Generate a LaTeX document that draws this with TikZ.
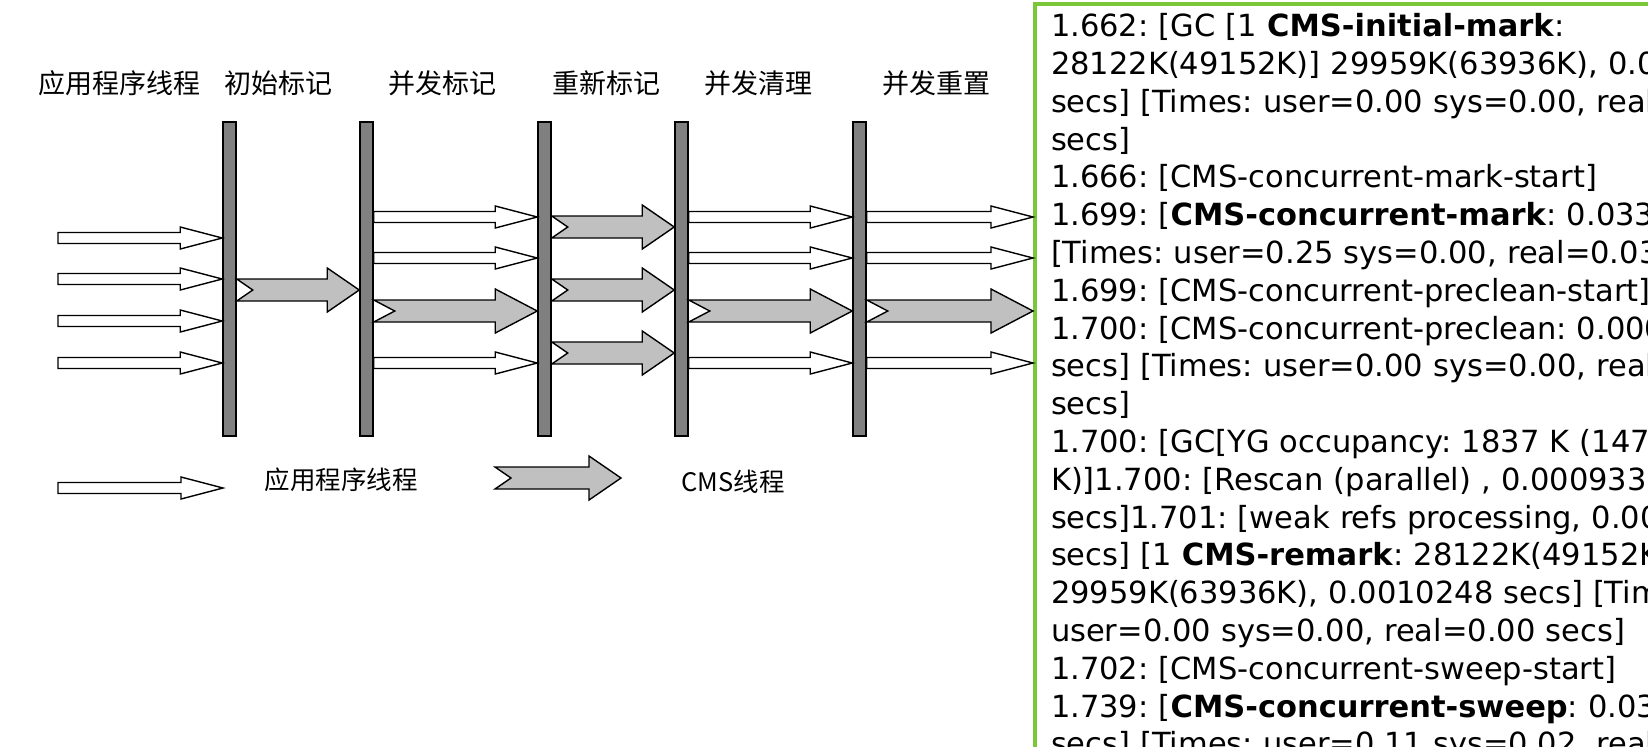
\documentclass[tikz,border=0pt]{standalone}
\usepackage{fontspec}
\usepackage{xcolor}
\usetikzlibrary{calc}

\newfontfamily\cjk{Noto Sans CJK SC}
\newfontfamily\logfont{DejaVu Sans}
\definecolor{bargray}{RGB}{128,128,128}
\definecolor{cmsgray}{RGB}{192,192,192}
\definecolor{logframe}{RGB}{122,200,58}

% hollow arrow of an application thread, from #1 to #2 at height #3
\newcommand{\apparrow}[3]{%
  \coordinate (s) at (#1 |- 0,#3);
  \coordinate (t) at (#2 |- 0,#3);
  \draw[appthread] ($(s)+(0,-5.5)$) -- ($(t)+(-42,-5.5)$) -- ($(t)+(-42,-11)$) -- (t)
    -- ($(t)+(-42,11)$) -- ($(t)+(-42,5.5)$) -- ($(s)+(0,5.5)$) -- cycle;
}
% grey arrow of a CMS thread, head length #1
\newcommand{\cmsarrow}[4][32]{%
  \coordinate (s) at (#2 |- 0,#4);
  \coordinate (t) at (#3 |- 0,#4);
  \draw[cmsthread] ($(s)+(0,-11)$) -- ($(t)+(-#1,-11)$) -- ($(t)+(-#1,-22)$) -- (t)
    -- ($(t)+(-#1,22)$) -- ($(t)+(-#1,11)$) -- ($(s)+(0,11)$) -- ($(s)+(#1/2,0)$) -- cycle;
}

\begin{document}
\begin{tikzpicture}[x=0.5pt,y=-0.5pt,
  gcbar/.style={draw,line width=0.75pt,fill=bargray,minimum width=6.5pt,minimum height=157pt,inner sep=0pt},
  appthread/.style={draw,line width=0.7pt,fill=white},
  cmsthread/.style={draw,line width=0.7pt,fill=cmsgray},
  phase/.style={font=\cjk\fontsize{13.5pt}{16pt}\selectfont,inner sep=0pt},
  keylabel/.style={font=\cjk\fontsize{12.75pt}{15pt}\selectfont,inner sep=0pt},
  logbox/.style={draw=logframe,line width=2pt,inner xsep=8pt,inner ysep=5pt,text width=520pt,align=left,
    font=\logfont\fontsize{15.25pt}{18.9pt}\selectfont\frenchspacing}]
\useasboundingbox (0,0) rectangle (1648,746);
\clip (0,0) rectangle (1648,746);

% phase names
\node[phase] (appname) at (119,83) {应用程序线程};
\node[phase] (initmark) at (278,83) {初始标记};
\node[phase] (concmark) at (442,83) {并发标记};
\node[phase] (remark) at (606,83) {重新标记};
\node[phase] (concsweep) at (758,83) {并发清理};
\node[phase] (concreset) at (936,83) {并发重置};

% pauses
\foreach \n/\x in {1/229.5,2/366.5,3/544.5,4/681.5,5/859.5}
  \node[gcbar] (bar\n) at (\x,279) {};

% gc log
\node[logbox,anchor=north west] (log) at (1033,1.5) {%
1.662: [GC [1 \textbf{CMS-initial-mark}:\\
28122K(49152K)] 29959K(63936K), 0.00\\
secs] [Times: user=0.00 sys=0.00, real=0\\
secs]\\
1.666: [CMS-concurrent-mark-start]\\
1.699: [\textbf{CMS-concurrent-mark}: 0.033/0.0\\
{[}Times: user=0.25 sys=0.00, real=0.03 se\\
1.699: [CMS-concurrent-preclean-start]\\
1.700: [CMS-concurrent-preclean: 0.000\\
secs] [Times: user=0.00 sys=0.00, real=0\\
secs]\\
1.700: [GC[YG occupancy: 1837 K (1478\\
K)]1.700: [Rescan (parallel) , 0.0009330\\
secs]1.701: [weak refs processing, 0.000\\
secs] [1 \textbf{CMS-remark}: 28122K(49152K)]\\
29959K(63936K), 0.0010248 secs] [Times:\\
user=0.00 sys=0.00, real=0.00 secs]\\
1.702: [CMS-concurrent-sweep-start]\\
1.739: [\textbf{CMS-concurrent-sweep}: 0.035/0.0\\
secs] [Times: user=0.11 sys=0.02, real=0};

% threads
\coordinate (appstart) at (58,300);
\foreach \y in {238,279,321,363} {\apparrow{appstart}{bar1.west}{\y}}
\cmsarrow{bar1.east}{bar2.west}{290}
\foreach \y in {217,258,363} {\apparrow{bar2.east}{bar3.west}{\y}}
\cmsarrow[42]{bar2.east}{bar3.west}{311}
\foreach \y in {227,290,353} {\cmsarrow{bar3.east}{bar4.west}{\y}}
\foreach \y in {217,258,363} {\apparrow{bar4.east}{bar5.west}{\y}}
\cmsarrow[42]{bar4.east}{bar5.west}{311}
\foreach \y in {217,258,363} {\apparrow{bar5.east}{log.west}{\y}}
\cmsarrow[42]{bar5.east}{log.west}{311}

% key
\coordinate (keyapp) at (58,488);
\coordinate (keyappend) at (223,488);
\apparrow{keyapp}{keyappend}{488}
\node[keylabel] (keyapptext) at (341,480) {应用程序线程};
\coordinate (keycms) at (495,478);
\coordinate (keycmsend) at (621,478);
\cmsarrow{keycms}{keycmsend}{478}
\node[keylabel] (keycmstext) at (733,482) {CMS线程};
\end{tikzpicture}
\end{document}
